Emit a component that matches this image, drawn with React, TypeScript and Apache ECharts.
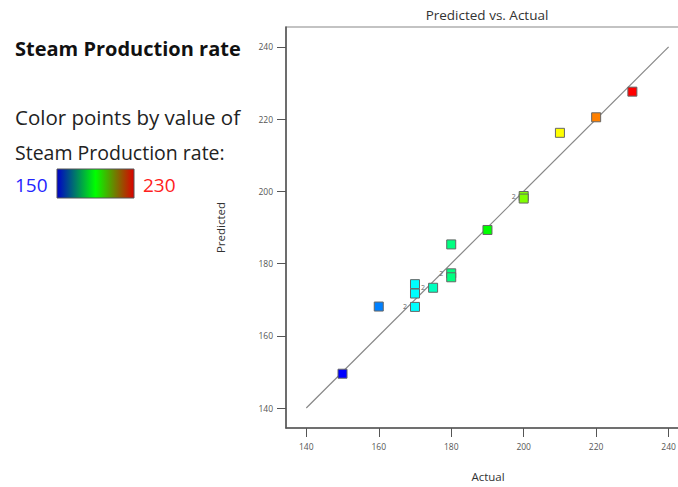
import React, { useEffect, useRef } from "react";
import * as echarts from "echarts";

const actual = [150, 160, 170, 170, 170, 175, 180, 180, 180, 190, 200, 200, 210, 220, 230];
const predicted = [149.5, 168.1, 174.3, 171.7, 168.0, 173.3, 185.3, 177.3, 176.2, 189.3, 198.7, 198.0, 216.2, 220.5, 227.6];
const counts = [1, 1, 1, 1, 2, 2, 1, 2, 1, 1, 2, 1, 1, 1, 1];
const tickValues = [140, 160, 180, 200, 220, 240];
const diagonal = [[140, 140], [240, 240]];
const colorMin = 150;
const colorMax = 230;

const FONT = "'Open Sans', 'Noto Sans', sans-serif";

export default function App() {
  const ref = useRef<HTMLDivElement>(null);
  useEffect(() => {
    if (!ref.current) return;
    const chart = echarts.init(ref.current, null, { renderer: "svg" });
    const scatterData = actual.map((a, i) => {
      const item: any = { value: [a, predicted[i]] };
      if (counts[i] > 1) {
        item.label = {
          show: true,
          formatter: String(counts[i]),
          position: "left",
          distance: 3,
          fontSize: 7,
          color: "#666",
          fontFamily: FONT,
        };
      }
      return item;
    });
    const axisCommon = {
      type: "value",
      axisLine: { show: true, lineStyle: { color: "#555", width: 1.5 } },
      axisTick: { show: true, length: 9, lineStyle: { color: "#555" }, customValues: tickValues },
      splitLine: { show: false },
    };
    chart.setOption({
      animation: false,
      textStyle: { fontFamily: FONT },
      grid: { left: 286, top: 27, right: 10, bottom: 59, show: true, borderColor: "#888", borderWidth: 1.2 },
      xAxis: {
        ...axisCommon,
        min: 134.4,
        max: 245.9,
        name: "Actual",
        nameLocation: "middle",
        nameGap: 42,
        nameTextStyle: { fontSize: 11.5, color: "#333", fontFamily: FONT },
        axisLabel: {
          customValues: tickValues,
          fontSize: 8.5,
          color: "#555",
          margin: 14,
          fontFamily: FONT,
          formatter: (v: number) => (v % 20 === 0 ? String(v) : ""),
        },
      },
      yAxis: {
        ...axisCommon,
        min: 134.47,
        max: 245.5,
        name: "Predicted",
        nameLocation: "middle",
        nameGap: 60,
        nameTextStyle: { fontSize: 11.5, color: "#333", fontFamily: FONT },
        axisLabel: {
          customValues: tickValues,
          fontSize: 8.5,
          color: "#555",
          margin: 13,
          fontFamily: FONT,
          formatter: (v: number) => (v % 20 === 0 ? String(v) : ""),
        },
      },
      visualMap: {
        type: "continuous",
        show: false,
        seriesIndex: 1,
        dimension: 0,
        min: colorMin,
        max: colorMax,
        inRange: { color: ["#0000ff", "#00ffff", "#00ff00", "#ffff00", "#ff0000"] },
      },
      series: [
        {
          type: "line",
          data: diagonal,
          symbol: "none",
          silent: true,
          lineStyle: { color: "#888", width: 1.2 },
          z: 1,
        },
        {
          type: "scatter",
          data: scatterData,
          symbol: "rect",
          symbolSize: 9,
          itemStyle: { borderColor: "#666", borderWidth: 1, opacity: 1 },
          z: 3,
        },
      ],
      graphic: [
        {
          type: "text",
          x: 487,
          y: 15,
          style: { text: "Predicted vs. Actual", fontSize: 13.5, fill: "#333", fontFamily: FONT, align: "center", verticalAlign: "middle" },
        },
        {
          type: "text",
          x: 15,
          y: 48,
          style: { text: "Steam Production rate", fontSize: 20, fontWeight: "bold", fill: "#111", fontFamily: FONT, verticalAlign: "middle" },
        },
        {
          type: "text",
          x: 15,
          y: 117,
          style: { text: "Color points by value of", fontSize: 20.5, fill: "#222", fontFamily: FONT, verticalAlign: "middle" },
        },
        {
          type: "text",
          x: 15,
          y: 152,
          style: { text: "Steam Production rate:", fontSize: 19.5, fill: "#222", fontFamily: FONT, verticalAlign: "middle" },
        },
        {
          type: "text",
          x: 15,
          y: 185,
          style: { text: String(colorMin), fontSize: 19, fill: "#2424ff", fontFamily: FONT, verticalAlign: "middle" },
        },
        {
          type: "rect",
          shape: { x: 57, y: 169, width: 77, height: 29 },
          style: {
            fill: new echarts.graphic.LinearGradient(0, 0, 1, 0, [
              { offset: 0, color: "#0000c8" },
              { offset: 0.5, color: "#00ff00" },
              { offset: 1, color: "#dc0000" },
            ]),
            stroke: "#555",
            lineWidth: 1,
          },
        },
        {
          type: "text",
          x: 143,
          y: 185,
          style: { text: String(colorMax), fontSize: 19, fill: "#ff2020", fontFamily: FONT, verticalAlign: "middle" },
        },
      ],
    });
    return () => chart.dispose();
  }, []);
  return (
    <div style={{ position: "absolute", left: 0, top: 0, width: 678, height: 487, overflow: "hidden", background: "#fff" }}>
      <div ref={ref} style={{ width: 700, height: 487 }} />
    </div>
  );
}
